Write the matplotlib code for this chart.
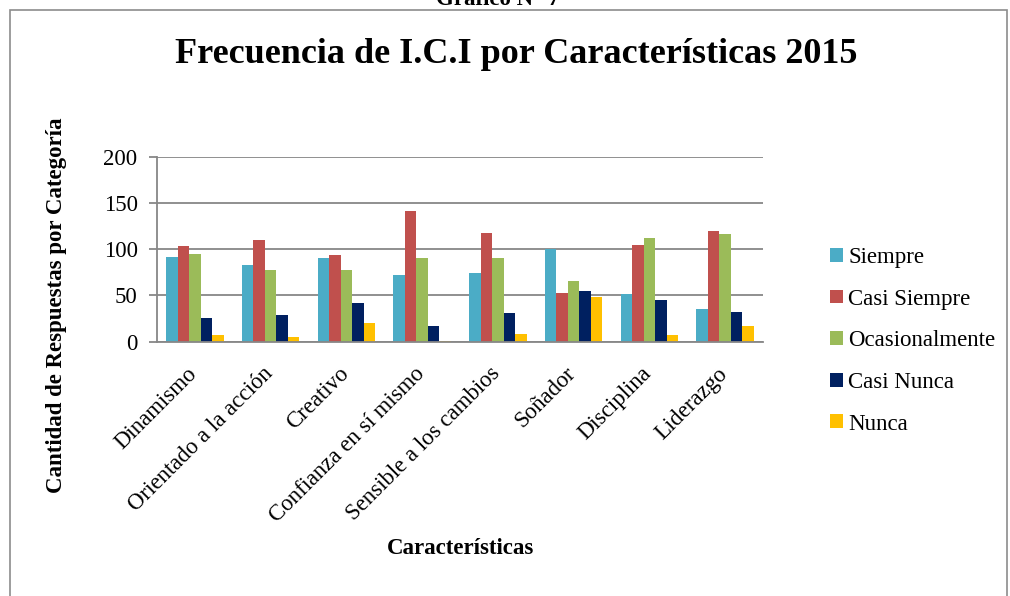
import matplotlib.pyplot as plt
import matplotlib.patches as mpatches
import numpy as np

plt.rcParams['font.family'] = ['Liberation Serif', 'DejaVu Serif']

# datos
caracteristicas = ['Dinamismo', 'Orientado a la acción', 'Creativo', 'Confianza en sí mismo',
                   'Sensible a los cambios', 'Soñador', 'Disciplina', 'Liderazgo']
siempre = [92, 83, 91, 72, 74, 100, 52, 35]
casi_siempre = [103, 110, 94, 141, 118, 53, 105, 120]
ocasionalmente = [95, 77, 77, 91, 91, 66, 112, 117]
casi_nunca = [25, 29, 42, 17, 31, 55, 45, 32]
nunca = [7, 5, 20, 1, 8, 48, 7, 17]

series = ['Siempre', 'Casi Siempre', 'Ocasionalmente', 'Casi Nunca', 'Nunca']
valores = [siempre, casi_siempre, ocasionalmente, casi_nunca, nunca]
colores = ['#4BACC6', '#C0504D', '#9BBB59', '#002060', '#FFC000']

W, H = 1010, 596
fig = plt.figure(figsize=(W / 100, H / 100), dpi=100)
ax = fig.add_axes([157 / W, 1 - 341.5 / H, (763 - 157) / W, (341.5 - 157) / H])

# marco del grafico
fig.patches.append(mpatches.Rectangle((9.5 / W, -0.1), (1007 - 9.5) / W, 1.1 - 10 / H,
                                      transform=fig.transFigure, fill=False,
                                      edgecolor='#8c8c8c', linewidth=1.2))

x = np.arange(len(caracteristicas))
bw = 0.152
for i, (nombre, vals, col) in enumerate(zip(series, valores, colores)):
    ax.bar(x + (i - 2) * bw, vals, bw, color=col, label=nombre, zorder=3)

ax.set_xlim(-0.5, len(caracteristicas) - 0.5)
ax.set_ylim(0, 200)
ax.set_yticks([0, 50, 100, 150, 200])
ax.yaxis.grid(True, color='#878787', linewidth=1.3, zorder=0)
for s in ['top', 'right']:
    ax.spines[s].set_visible(False)
for s in ['left', 'bottom']:
    ax.spines[s].set_color('#878787')
    ax.spines[s].set_linewidth(1.3)
ax.spines['bottom'].set_zorder(4)
ax.tick_params(axis='y', length=6, width=1.3, color='#878787', labelsize=16.5, pad=8)
ax.tick_params(axis='x', length=0, labelsize=16.5, pad=21)
ax.set_xticks(x - 0.01)
ax.set_xticklabels(caracteristicas, rotation=45, ha='right', va='center', rotation_mode='anchor')

ax.set_xlabel('Características', fontsize=16.5, fontweight='bold')
ax.xaxis.set_label_coords((460 - 157) / (763 - 157), (341.5 - 538) / (341.5 - 157))
ax.set_ylabel('Cantidad de Respuestas por Categoría', fontsize=16.5, fontweight='bold')
ax.yaxis.set_label_coords((67 - 157) / (763 - 157), (341.5 - 305) / (341.5 - 157))

fig.text(516 / W, 1 - 63 / H, 'Frecuencia de I.C.I por Características 2015',
         fontsize=26, fontweight='bold', ha='center', va='baseline')
fig.text(498 / W, 1 - 5 / H, 'Gráfico N° 7', fontsize=16.5, fontweight='bold',
         ha='center', va='baseline')

fig.legend(loc='upper left', bbox_to_anchor=(830 / W, 1 - 247 / H), frameon=False,
           fontsize=16.5, handlelength=0.55, handleheight=0.55, handletextpad=0.25,
           labelspacing=0.9, borderpad=0, borderaxespad=0)

plt.savefig('out.png', dpi=100)
